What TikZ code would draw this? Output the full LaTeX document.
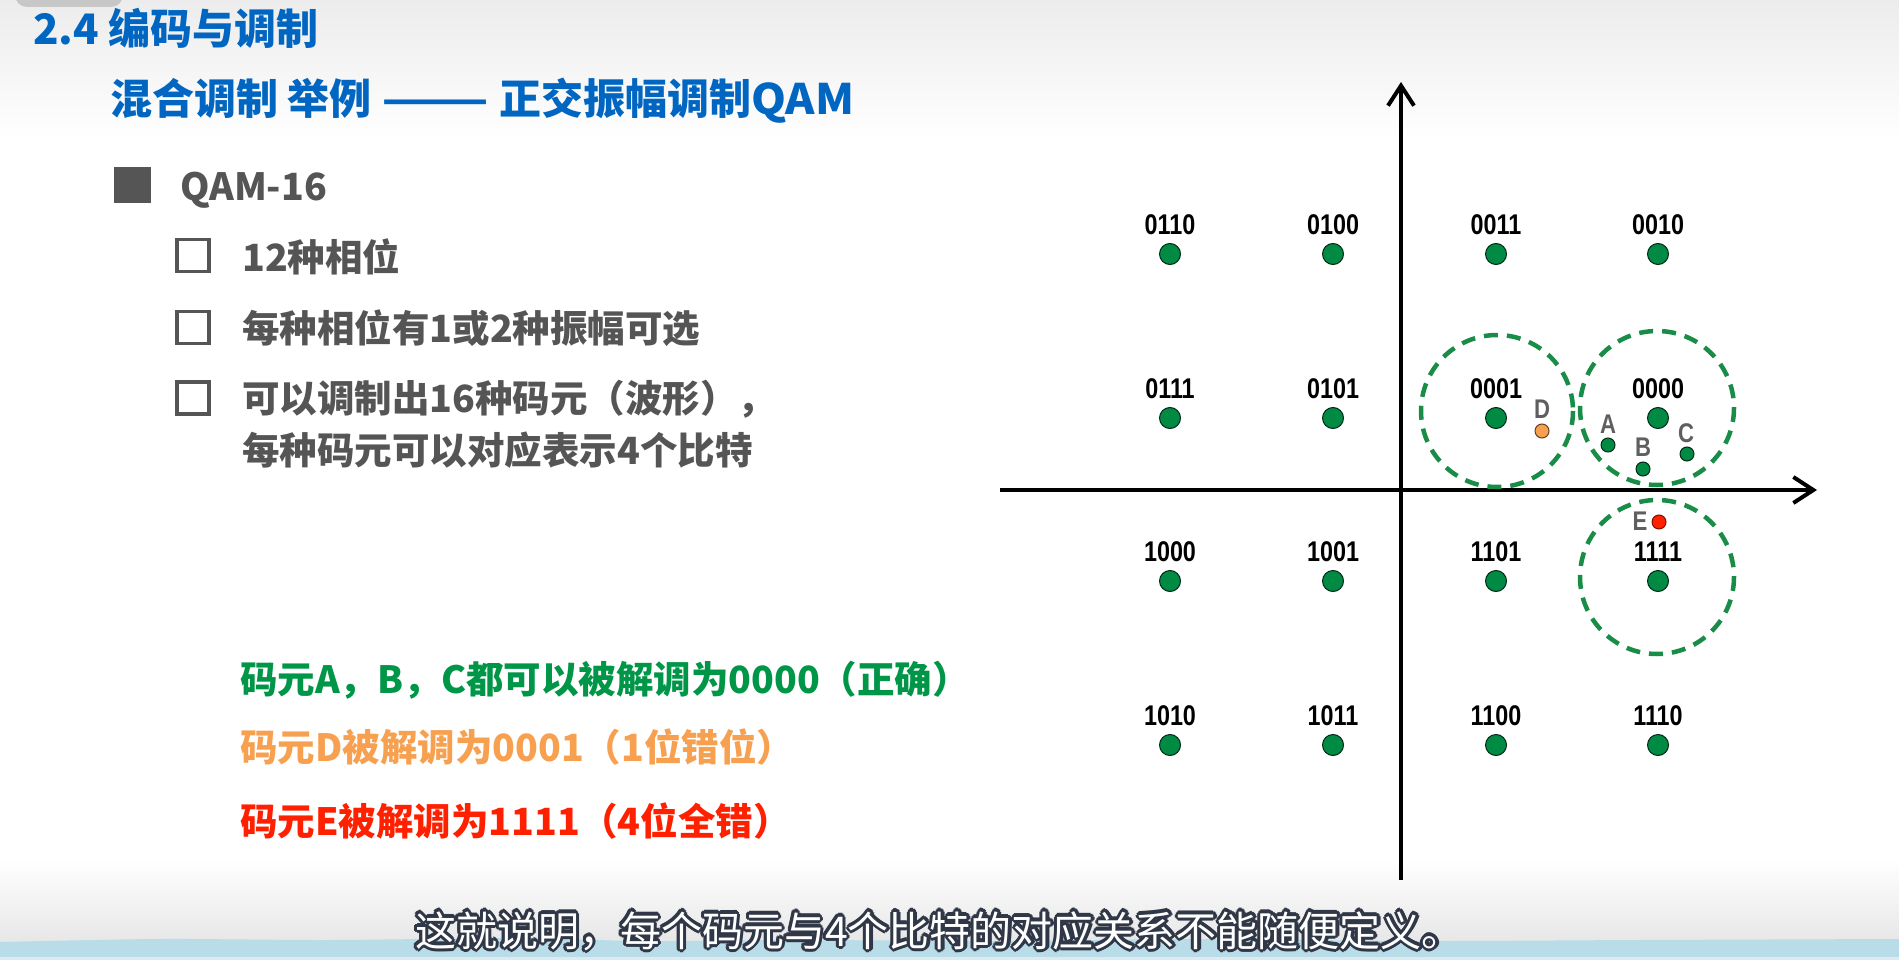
\documentclass[tikz,border=0pt]{standalone}
\usepackage{fontspec}
\setmainfont{Liberation Sans}
\newfontfamily\cjk{Noto Sans CJK SC}
\newfontfamily\lbl{Liberation Sans}[FakeStretch=0.82]
\usetikzlibrary{arrows.meta}

\definecolor{titleblue}{RGB}{0,102,194}
\definecolor{textgray}{RGB}{85,85,85}
\definecolor{dotgreen}{RGB}{0,138,68}
\definecolor{ringgreen}{RGB}{25,140,72}
\definecolor{okgreen}{RGB}{0,150,72}
\definecolor{warnorange}{RGB}{247,160,80}
\definecolor{errred}{RGB}{255,32,0}
\definecolor{lettergray}{RGB}{95,95,95}
\definecolor{bandblue}{RGB}{184,221,233}
\definecolor{capoutline}{RGB}{48,55,70}
\definecolor{topgray}{RGB}{236,236,236}
\definecolor{botgray}{RGB}{230,230,230}

\begin{document}
\begin{tikzpicture}[x=1pt,y=-1pt,
  heading/.style={anchor=base west,inner sep=0pt,text=titleblue,
    font=\cjk\bfseries\fontsize{42}{50}\selectfont},
  body/.style={anchor=base west,inner sep=0pt,text=textgray,
    font=\cjk\bfseries\fontsize{37.5}{46}\selectfont},
  verdict/.style={anchor=base west,inner sep=0pt,
    font=\cjk\bfseries\fontsize{37.5}{46}\selectfont},
  checkbox/.style={draw=textgray,line width=3.5pt,minimum size=32pt,inner sep=0pt},
  bigdot/.style={circle,fill=dotgreen,draw=black!70!dotgreen,line width=1pt,
    minimum size=21pt,inner sep=0pt},
  smalldot/.style={circle,draw=black!70!dotgreen,line width=1pt,
    minimum size=14pt,inner sep=0pt},
  code/.style={inner sep=0pt,font=\lbl\bfseries\fontsize{28.5}{32}\selectfont},
  letter/.style={inner sep=0pt,text=lettergray,font=\lbl\bfseries\fontsize{27}{30}\selectfont},
  ring/.style={draw=ringgreen,line width=4.5pt,dash pattern=on 14pt off 9pt},
  axis/.style={line width=4pt,-{Straight Barb[length=20pt,width=26pt]}},
  caption/.style={anchor=base west,inner sep=0pt,
    font=\cjk\fontsize{41}{48}\selectfont}
]
\useasboundingbox (0,0) rectangle (1899,960);

% page background
\fill[white] (0,0) rectangle (1899,960);
\shade[top color=topgray,bottom color=white] (0,0) rectangle (1899,140);
\shade[top color=white,bottom color=botgray] (0,860) rectangle (1899,945);
\fill[black!22,rounded corners=12pt] (15,-20) rectangle (123,7);

% wavy band along the bottom edge
\fill[bandblue] plot[smooth] coordinates {(0,942) (160,939) (330,940) (520,938)
  (640,941) (800,940) (1000,941) (1200,939) (1420,941) (1640,940) (1899,939)}
  -- (1899,957) -- (0,957) -- cycle;
\fill[black!8!bandblue!40!white] (0,957) rectangle (1899,960);

% headings
\node[heading] (title) at (33,45) {2.4 编码与调制};
\node[heading] (subtitle) at (110,115) {混合调制 举例 \scalebox{1.5}[1]{——} 正交振幅调制\scalebox{1.06}[1]{QAM}};

% bullet list
\node[fill=textgray,minimum width=37pt,minimum height=36pt,inner sep=0pt] (sq) at (132.5,185) {};
\node[body] (qam) at (180,201) {QAM-16};
\node[checkbox] (cb1) at (193,255.5) {};
\node[checkbox] (cb2) at (193,327.5) {};
\node[checkbox] (cb3) at (193,398) {};
\node[body] (t1) at (242,272) {12种相位};
\node[body] (t2) at (242,342) {每种相位有1或2种振幅可选};
\node[body] (t3) at (242,412) {可以调制出16种码元（波形），};
\node[body] (t4) at (242,464) {每种码元可以对应表示4个比特};

% demodulation outcomes
\node[verdict,text=okgreen] (r1) at (240,693) {码元A，B，C都可以被解调为0000（正确）};
\node[verdict,text=warnorange] (r2) at (240,761) {码元D被解调为0001（1位错位）};
\node[verdict,text=errred] (r3) at (240,835) {码元E被解调为1111（4位全错）};

% axes
\coordinate (xl) at (1000,490);
\coordinate (xr) at (1817,490);
\coordinate (yb) at (1401,880);
\coordinate (yt) at (1401,82);
\draw[axis] (xl) -- (xr);
\draw[axis] (yb) -- (yt);

% decision regions
\draw[ring] (1497,411) circle[radius=76];
\draw[ring] (1657,408) circle[radius=77];
\draw[ring] (1657,577) circle[radius=77];

% 16-QAM constellation points
\foreach \c/\x/\y in {0110/1170/254,0100/1333/254,0011/1496/254,0010/1658/254,
                      0111/1170/418,0101/1333/418,0001/1496/418,0000/1658/418,
                      1000/1170/581,1001/1333/581,1101/1496/581,1111/1658/581,
                      1010/1170/745,1011/1333/745,1100/1496/745,1110/1658/745}{
  \node[bigdot] (p\c) at (\x,\y) {};
  \node[code] (l\c) at (\x,\y-29) {\c};
}

% received symbols
\node[smalldot,fill=warnorange,draw=black!60!warnorange] (sD) at (1542,431) {};
\node[letter] (lD) at (1542,409) {D};
\node[smalldot,fill=dotgreen] (sA) at (1608,445) {};
\node[letter] (lA) at (1608,424) {A};
\node[smalldot,fill=dotgreen] (sB) at (1643,469) {};
\node[letter] (lB) at (1643,447) {B};
\node[smalldot,fill=dotgreen] (sC) at (1687,454) {};
\node[letter] (lC) at (1686,433) {C};
\node[smalldot,fill=errred,draw=black!50!errred] (sE) at (1659,522) {};
\node[letter] (lE) at (1640,521) {E};

% outlined caption
\coordinate (cap) at (415,946);
\foreach \a in {0,30,...,330}{
  \node[caption,text=capoutline] at ([shift={(\a:3.2)}]cap) {这就说明，每个码元与4个比特的对应关系不能随便定义。};
}
\node[caption,text=white] (captext) at (cap) {这就说明，每个码元与4个比特的对应关系不能随便定义。};
\end{tikzpicture}
\end{document}
